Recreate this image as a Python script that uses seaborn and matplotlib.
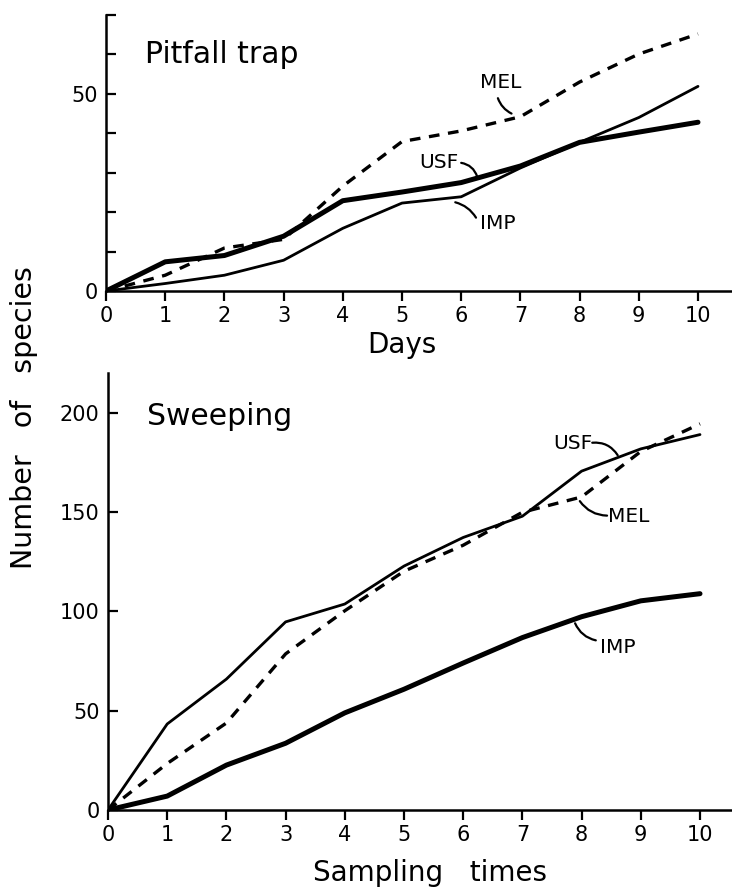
import matplotlib
matplotlib.use("Agg")
import matplotlib.pyplot as plt
import seaborn as sns
import numpy as np
import pandas as pd

sns.set_theme(style="white")
plt.rcParams['font.family'] = ['DejaVu Sans']
plt.rcParams['text.color'] = 'black'
plt.rcParams['axes.labelcolor'] = 'black'
plt.rcParams['xtick.color'] = 'black'
plt.rcParams['ytick.color'] = 'black'

# ---- data ----
days = [0, 1, 2, 3, 4, 5, 6, 7, 8, 9, 10]
pit_USF = [0, 7.4, 9.0, 13.9, 22.9, 25.1, 27.5, 31.7, 37.7, 40.3, 42.8]
pit_IMP = [0, 1.9, 4.0, 7.8, 15.9, 22.3, 23.9, 31.2, 37.7, 44.0, 51.9]
pit_MEL = [0, 4.0, 10.9, 13.1, 26.6, 37.9, 40.6, 44.2, 53.0, 60.1, 65.2]

times = [0, 1, 2, 3, 4, 5, 6, 7, 8, 9, 10]
sw_USF = [0, 43.3, 65.9, 94.7, 103.7, 122.8, 137.2, 147.9, 170.6, 181.8, 189.0]
sw_MEL = [0, 23.4, 43.8, 78.6, 100.3, 120.2, 133.3, 149.9, 157.6, 180.5, 194.4]
sw_IMP = [0, 7.0, 22.6, 33.6, 48.9, 60.8, 74.0, 86.8, 97.3, 105.3, 108.9]

pit_yticks = [0, 10, 20, 30, 40, 50, 60, 70]
pit_ylabels = ["0", "", "", "", "", "50", "", ""]
sw_yticks = [0, 50, 100, 150, 200]
x_ticks = [0, 1, 2, 3, 4, 5, 6, 7, 8, 9, 10]

W, H = 732, 891
fig = plt.figure(figsize=(W / 100, H / 100), dpi=100)
fig.patch.set_facecolor("white")

def fax(l, t, r, b):
    return fig.add_axes([l / W, 1 - b / H, (r - l) / W, (b - t) / H])

ax1 = fax(106, 15, 732, 291)
ax2 = fax(108, 373, 732, 810)

K = "black"
thick, thin, dash = 3.6, 2.0, 2.4
dstyle = (0, (3.2, 2.6))

sns.lineplot(x=days, y=pit_MEL, ax=ax1, color=K, lw=dash, linestyle=dstyle)
sns.lineplot(x=days, y=pit_IMP, ax=ax1, color=K, lw=thin)
sns.lineplot(x=days, y=pit_USF, ax=ax1, color=K, lw=thick)

sns.lineplot(x=times, y=sw_MEL, ax=ax2, color=K, lw=dash, linestyle=dstyle)
sns.lineplot(x=times, y=sw_USF, ax=ax2, color=K, lw=thin)
sns.lineplot(x=times, y=sw_IMP, ax=ax2, color=K, lw=thick)

for ax in (ax1, ax2):
    ax.set_facecolor("white")
    for s in ("top", "right"):
        ax.spines[s].set_visible(False)
    for s in ("left", "bottom"):
        ax.spines[s].set_color(K)
        ax.spines[s].set_linewidth(1.8)
    ax.set_xticks(x_ticks)
    ax.set_xticklabels([str(v) for v in x_ticks])
    ax.tick_params(axis="x", bottom=True, direction="out", length=7, width=1.6,
                   colors=K, labelsize=15, pad=4)
    ax.tick_params(axis="y", left=True, direction="in", length=7, width=1.6,
                   colors=K, labelsize=15, pad=6)
    ax.set_ylabel("")
    ax.set_xlabel("")

ax1.set_xlim(0, (732 - 106) / 59.2)
ax1.set_ylim(0, 70)
ax1.set_yticks(pit_yticks)
ax1.set_yticklabels(pit_ylabels)

ax2.set_xlim(0, (732 - 108) / 59.2)
ax2.set_ylim(0, 220)
ax2.set_yticks(sw_yticks)
ax2.set_yticklabels([str(v) for v in sw_yticks])

ax1.set_xlabel("Days", fontsize=20)
ax1.xaxis.set_label_coords((402 - 106) / (732 - 106), -0.145, transform=ax1.transAxes)
ax1.xaxis.label.set_va("top")
ax2.set_xlabel("Sampling   times", fontsize=20)
ax2.xaxis.set_label_coords((430 - 108) / (732 - 108), -0.112, transform=ax2.transAxes)
ax2.xaxis.label.set_va("top")

ax1.text(0.66, 57.7, "Pitfall trap", fontsize=21.5, va="baseline", ha="left")
ax2.text(0.66, 194, "Sweeping", fontsize=21.5, va="baseline", ha="left")

fig.text(0.033, 0.531, "Number   of   species", rotation=90, fontsize=20.5,
         ha="center", va="center")

ap = dict(arrowstyle="-", color=K, lw=1.6, shrinkA=0, shrinkB=0)
def lab(ax, txt, tx, ty, ax0, ay0, ax1_, ay1, rad=0.25):
    ax.text(tx, ty, txt, fontsize=14.5, ha="center", va="center")
    p = dict(ap)
    p["connectionstyle"] = f"arc3,rad={rad}"
    ax.annotate("", xy=(ax1_, ay1), xytext=(ax0, ay0), arrowprops=p)

lab(ax1, "MEL", 6.66, 52.9, 6.62, 48.9, 6.85, 45.0, rad=0.2)
lab(ax1, "USF", 5.63, 32.5, 6.0, 32.5, 6.27, 29.0, rad=-0.3)
lab(ax1, "IMP", 6.62, 17.1, 6.25, 18.6, 5.9, 22.5, rad=0.2)

lab(ax2, "USF", 7.85, 184.4, 8.18, 184.9, 8.61, 178.6, rad=-0.3)
lab(ax2, "MEL", 8.8, 147.7, 8.43, 148.2, 7.97, 155.5, rad=-0.25)
lab(ax2, "IMP", 8.61, 81.9, 8.24, 85.4, 7.89, 94.0, rad=-0.25)

fig.savefig("out.png", dpi=100, facecolor="white")
